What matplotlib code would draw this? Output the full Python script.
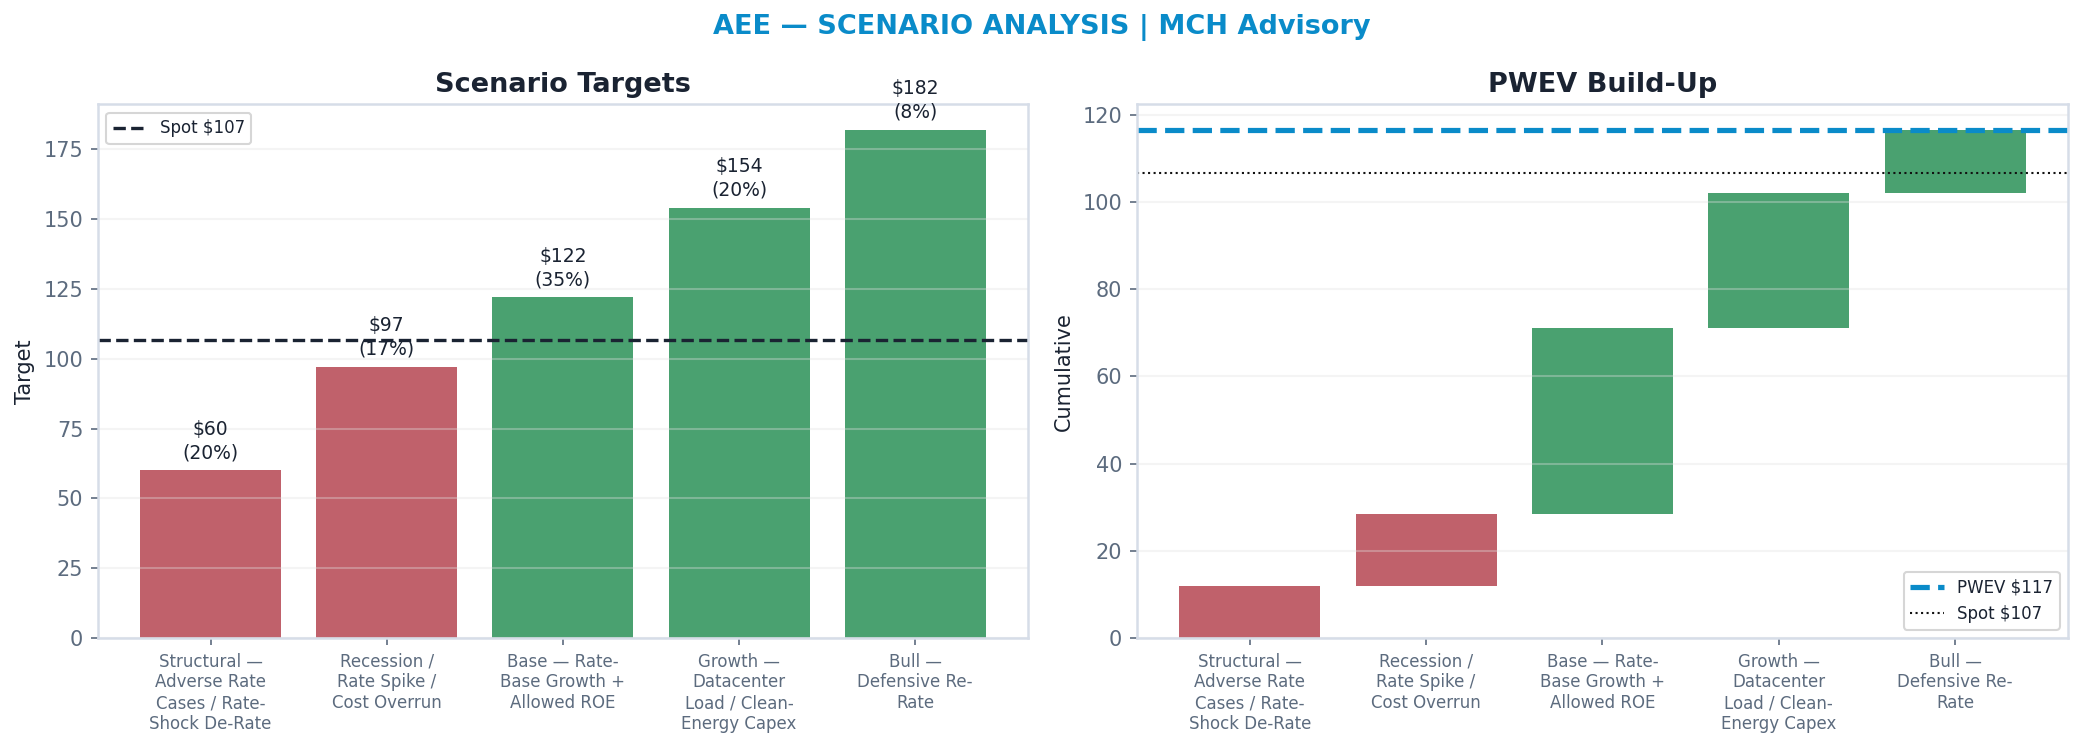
import textwrap
import matplotlib
matplotlib.use("Agg")
import matplotlib.pyplot as plt

scenarios = [
    "Structural — Adverse Rate Cases / Rate-Shock De-Rate",
    "Recession / Rate Spike / Cost Overrun",
    "Base — Rate-Base Growth + Allowed ROE",
    "Growth — Datacenter Load / Clean-Energy Capex",
    "Bull — Defensive Re-Rate",
]
targets = [60, 97, 122, 154, 182]
probs = [0.20, 0.17, 0.35, 0.20, 0.08]
spot = 106.7
pwev_label = 117
spot_label = 107

RED = "#c0616b"
GREEN = "#4aa170"
BLUE = "#0a8bc9"
NAVY = "#1a2332"
SLATE = "#5c6b7e"
SPINE = "#d6dde8"
GRID = "#e0e0e0"

colors = [RED if t < spot else GREEN for t in targets]
labels = [textwrap.fill(s, 14) for s in scenarios]
x = list(range(len(scenarios)))

fig = plt.figure(figsize=(2083 / 150, 742 / 150), dpi=150)
ax1 = fig.add_axes([0.0470, 0.1402, 0.4465, 0.7190])
ax2 = fig.add_axes([0.5458, 0.1402, 0.4470, 0.7190])

fig.text(0.5, 0.963, "AEE — SCENARIO ANALYSIS | MCH Advisory", ha="center", va="center",
         fontsize=13, fontweight="bold", color=BLUE)

def style(ax):
    for s in ax.spines.values():
        s.set_color(SPINE)
        s.set_linewidth(1.2)
    ax.tick_params(axis="y", colors=SLATE, labelsize=10)
    ax.tick_params(axis="x", colors=SLATE, labelsize=8)
    ax.grid(axis="y", color=GRID, alpha=0.35, linewidth=1.0)

# Left: scenario targets
ax1.bar(x, targets, width=0.8, color=colors)
ax1.axhline(spot, color=NAVY, linestyle="--", linewidth=1.6, label=f"Spot ${spot_label}")
for xi, t, p in zip(x, targets, probs):
    ax1.annotate(f"${t:.0f}\n({p*100:.0f}%)", (xi, t), xytext=(0, 4), textcoords="offset points",
                 ha="center", va="bottom", fontsize=9, color=NAVY, linespacing=1.3)
ax1.set_ylim(0, max(targets) * 1.05)
ax1.set_xticks(x)
ax1.set_xticklabels(labels)
ax1.set_ylabel("Target", fontsize=10, color=NAVY)
ax1.set_title("Scenario Targets", fontsize=13, fontweight="bold", color=NAVY, pad=6)
style(ax1)
leg1 = ax1.legend(loc="upper left", fontsize=8, frameon=True)
leg1.get_frame().set_edgecolor("#cccccc")
for t in leg1.get_texts():
    t.set_color(NAVY)

# Right: PWEV waterfall
contrib = [t * p for t, p in zip(targets, probs)]
bottoms = []
cum = 0.0
for c in contrib:
    bottoms.append(cum)
    cum += c
pwev = cum
ax2.bar(x, contrib, bottom=bottoms, width=0.8, color=colors)
ax2.axhline(pwev, color=BLUE, linestyle="--", linewidth=2.5, label=f"PWEV ${pwev_label}")
ax2.axhline(spot, color="#111111", linestyle=":", linewidth=1.0, label=f"Spot ${spot_label}")
ax2.set_ylim(0, pwev * 1.05)
ax2.set_xticks(x)
ax2.set_xticklabels(labels)
ax2.set_ylabel("Cumulative", fontsize=10, color=NAVY)
ax2.set_title("PWEV Build-Up", fontsize=13, fontweight="bold", color=NAVY, pad=6)
style(ax2)
leg2 = ax2.legend(loc="lower right", fontsize=8, frameon=True)
leg2.get_frame().set_edgecolor("#cccccc")
for t in leg2.get_texts():
    t.set_color(NAVY)

fig.savefig("out.png", dpi=150, facecolor="white")
